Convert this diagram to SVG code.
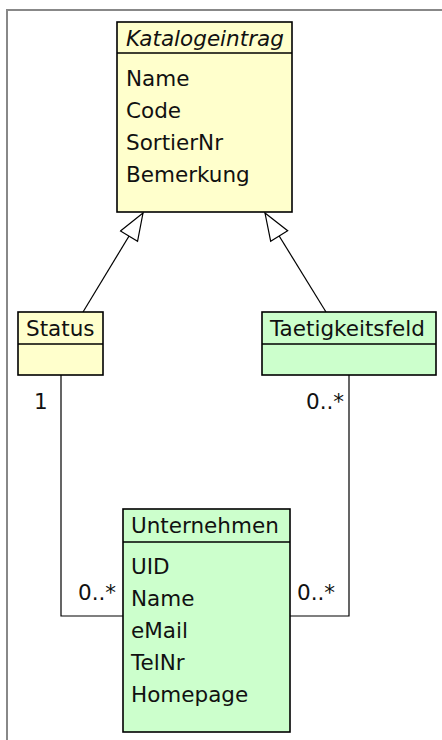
<svg xmlns="http://www.w3.org/2000/svg" width="442" height="740" viewBox="0 0 442 740">
<style>
.box{stroke:#000;stroke-width:1.6}
.y{fill:#ffffcc}
.g{fill:#ccffcc}
.sep{stroke:#000;stroke-width:1.6}
text{font-family:"DejaVu Sans","Liberation Sans",sans-serif;font-size:21.5px;fill:#111}
.it{font-style:italic}
.conn{fill:none;stroke:#000;stroke-width:1.2}
</style>
<defs>
<marker id="gen" markerUnits="userSpaceOnUse" markerWidth="32" markerHeight="24" refX="29" refY="11" orient="auto">
<path d="M2,1 L29,11 L2,21 Z" fill="#fff" stroke="#000" stroke-width="1.2"/>
</marker>
</defs>
<rect width="442" height="740" fill="#fff"/>
<path d="M7,740 V10 H442" fill="none" stroke="#888" stroke-width="2"/>

<g id="connectors">
<line class="conn" x1="83" y1="312" x2="143" y2="213" marker-end="url(#gen)"/>
<line class="conn" x1="326" y1="312" x2="265" y2="213" marker-end="url(#gen)"/>
<polyline class="conn" points="61,375 61,616 123,616"/>
<polyline class="conn" points="349,375 349,616 290,616"/>
<text x="34" y="409">1</text>
<text x="306" y="409">0..*</text>
<text x="78" y="600">0..*</text>
<text x="297" y="600">0..*</text>
</g>

<g id="Katalogeintrag">
<rect class="box y" x="117" y="22" width="175" height="190"/>
<line class="sep" x1="117" y1="53" x2="292" y2="53"/>
<text class="it" x="126" y="46">Katalogeintrag</text>
<text x="126" y="86">Name</text>
<text x="126" y="118">Code</text>
<text x="126" y="150">SortierNr</text>
<text x="126" y="182">Bemerkung</text>
</g>

<g id="Status">
<rect class="box y" x="18" y="312" width="85" height="63"/>
<line class="sep" x1="18" y1="344" x2="103" y2="344"/>
<text x="26" y="336">Status</text>
</g>

<g id="Taetigkeitsfeld">
<rect class="box g" x="262" y="312" width="174" height="63"/>
<line class="sep" x1="262" y1="344" x2="436" y2="344"/>
<text x="270" y="336">Taetigkeitsfeld</text>
</g>

<g id="Unternehmen">
<rect class="box g" x="123" y="509" width="167" height="223"/>
<line class="sep" x1="123" y1="542" x2="290" y2="542"/>
<text x="131" y="533">Unternehmen</text>
<text x="131" y="574">UID</text>
<text x="131" y="606">Name</text>
<text x="131" y="638">eMail</text>
<text x="131" y="670">TelNr</text>
<text x="131" y="702">Homepage</text>
</g>
</svg>
